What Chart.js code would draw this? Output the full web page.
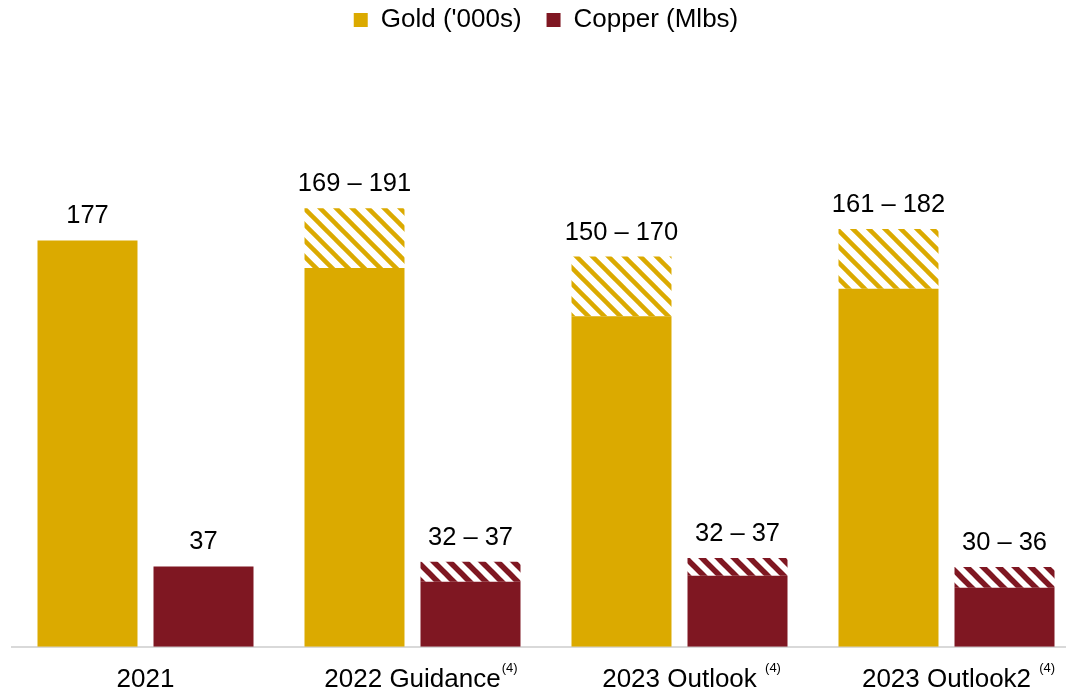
<!DOCTYPE html>
<html>
<head>
<meta charset="utf-8">
<script src="https://cdn.jsdelivr.net/npm/chart.js@4.4.0/dist/chart.umd.min.js"></script>
<style>
  html, body { margin: 0; padding: 0; background: #fff; overflow: hidden; }
  #wrap { width: 1097px; height: 691px; position: relative; }
</style>
</head>
<body>
<div id="wrap"><canvas id="productionChart"></canvas></div>
<script>
// categories + footnote markers shown as superscript after the tick label
const categories = ['2021', '2022 Guidance', '2023 Outlook', '2023 Outlook2'];
const footnotes = ['', '(4)', ' (4)', ' (4)'];

// bar heights (solid part, then top of the hatched range)
const goldLow = [177, 165, 144, 156];
const goldHigh = [null, 191, 170, 182];
const copperLow = [35, 28.3, 30.9, 25.7];
const copperHigh = [null, 37, 38.7, 34.8];

// labels printed above each bar
const goldLabels = ['177', '169 – 191', '150 – 170', '161 – 182'];
const copperLabels = ['37', '32 – 37', '32 – 37', '30 – 36'];

const GOLD = '#DBAA00';
const COPPER = '#7F1722';
const FONT = "'Liberation Sans', Arial, sans-serif";
const TICK_PAD = 17;
const TICK_SIZE = 26;

// diagonal stripe fill for the guidance ranges
function stripes(color, width) {
    const c = document.createElement('canvas');
    c.width = 16;
    c.height = 16;
    const g = c.getContext('2d');
    g.fillStyle = '#fff';
    g.fillRect(0, 0, 16, 16);
    g.strokeStyle = color;
    g.lineWidth = width;
    for (let k = -1; k <= 1; k++) {
        g.beginPath();
        g.moveTo(k * 16 - 2, -2);
        g.lineTo(k * 16 + 18, 18);
        g.stroke();
    }
    return g.createPattern(c, 'repeat');
}

const ranges = (lo, hi) => hi.map((h, i) => h === null ? null : [lo[i], h]);

// numbers above bars
const barLabels = {
    id: 'barLabels',
    afterDatasetsDraw(chart) {
        const ctx = chart.ctx;
        ctx.save();
        ctx.font = '25.5px ' + FONT;
        ctx.fillStyle = '#000';
        ctx.textAlign = 'center';
        ctx.textBaseline = 'alphabetic';
        const groups = [[0, 1, goldLabels], [2, 3, copperLabels]];
        groups.forEach(([solid, hatch, texts]) => {
            const low = chart.getDatasetMeta(solid).data;
            const high = chart.getDatasetMeta(hatch).data;
            texts.forEach((t, i) => {
                const el = chart.data.datasets[hatch].data[i] ? high[i] : low[i];
                ctx.fillText(t, el.x, el.y - 17);
            });
        });
        ctx.restore();
    }
};

// superscript "(4)" after the category labels
const superscripts = {
    id: 'superscripts',
    afterDraw(chart) {
        const ctx = chart.ctx;
        const x = chart.scales.x;
        const mid = x.top + TICK_PAD + TICK_SIZE * 0.6;
        ctx.save();
        ctx.fillStyle = '#000';
        ctx.textBaseline = 'alphabetic';
        ctx.textAlign = 'left';
        footnotes.forEach((note, i) => {
            if (!note.trim()) return;
            const lead = note.match(/^ */)[0];
            ctx.font = TICK_SIZE + 'px ' + FONT;
            const w = ctx.measureText(categories[i]).width;
            const gap = ctx.measureText(categories[i] + lead).width - w;
            ctx.font = '13px ' + FONT;
            ctx.fillText(note.trim(), x.getPixelForValue(i) + w / 2 + gap + 1, mid - 7);
        });
        ctx.restore();
    }
};

const ctx = document.getElementById('productionChart').getContext('2d');

new Chart(ctx, {
    type: 'bar',
    data: {
        labels: categories,
        datasets: [
            { label: "Gold ('000s)", data: goldLow, backgroundColor: GOLD, stack: 'gold' },
            { label: 'gold range', data: ranges(goldLow, goldHigh), backgroundColor: stripes(GOLD, 4.5), stack: 'gold' },
            { label: 'Copper (Mlbs)', data: copperLow, backgroundColor: COPPER, stack: 'copper' },
            { label: 'copper range', data: ranges(copperLow, copperHigh), backgroundColor: stripes(COPPER, 5.5), stack: 'copper' }
        ]
    },
    options: {
        responsive: true,
        maintainAspectRatio: false,
        animation: false,
        categoryPercentage: 0.869,
        barPercentage: 0.862,
        layout: {
            padding: { left: 12, right: 17, top: -18, bottom: -21 }
        },
        plugins: {
            legend: {
                position: 'top',
                labels: {
                    filter: (item) => item.datasetIndex === 0 || item.datasetIndex === 2,
                    boxWidth: 14,
                    boxHeight: 14,
                    padding: 25,
                    color: '#000',
                    font: { family: FONT, size: 26 }
                }
            },
            tooltip: { enabled: false }
        },
        scales: {
            x: {
                stacked: true,
                grid: { display: false, drawTicks: false },
                border: { display: true, color: '#d9d9d9', width: 2 },
                ticks: {
                    color: '#000',
                    padding: TICK_PAD,
                    font: { family: FONT, size: TICK_SIZE }
                }
            },
            y: {
                stacked: false,
                display: false,
                min: 0,
                max: 263
            }
        }
    },
    plugins: [barLabels, superscripts]
});
</script>
</body>
</html>
